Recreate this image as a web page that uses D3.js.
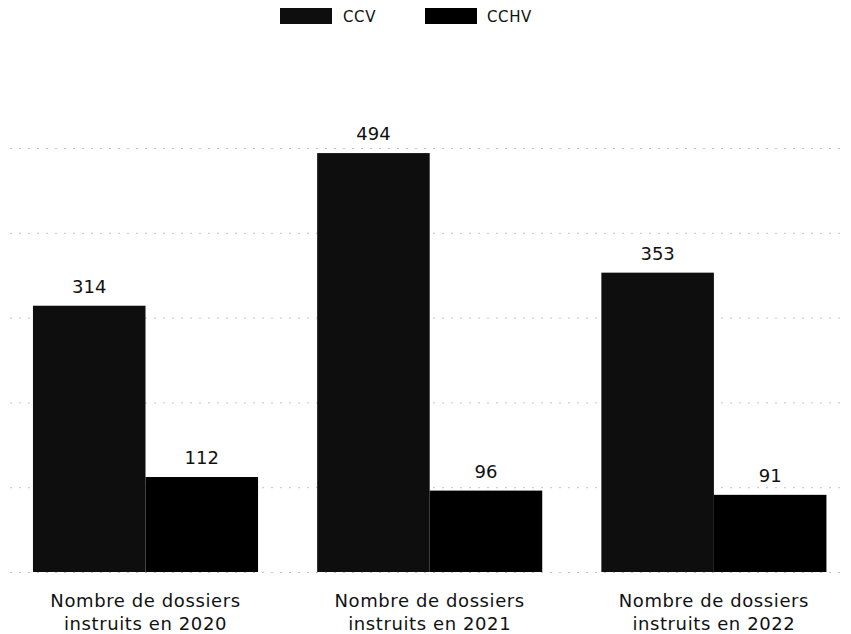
<!DOCTYPE html>
<html><head><meta charset="utf-8">
<script src="https://cdn.jsdelivr.net/npm/d3@7"></script>
<style>
html,body{margin:0;padding:0;background:#fff;}
svg{display:block;font-family:"DejaVu Sans",sans-serif;}
</style></head>
<body><svg id="c" width="851" height="634"></svg>
<script>
const categories = ["Nombre de dossiers|instruits en 2020","Nombre de dossiers|instruits en 2021","Nombre de dossiers|instruits en 2022"];
const seriesNames = ["CCV","CCHV"];
const ccv = [314, 494, 353];
const cchv = [112, 96, 91];
const yTicks = [0,100,200,300,400,500];
const colors = ["#0e0e0e","#000000"];

const svg = d3.select("#c");
const x0 = d3.scaleBand().domain(categories).range([3.4, 856]).paddingInner(0.208).paddingOuter(0.104);
const x1 = d3.scaleBand().domain(seriesNames).range([0, x0.bandwidth()]);
const y = d3.scaleLinear().domain([0,500]).range([572,148]);
const color = d3.scaleOrdinal().domain(seriesNames).range(colors);

// gridlines
svg.append("g").selectAll("line").data(yTicks).join("line")
  .attr("x1",10).attr("x2",845)
  .attr("y1",d=>y(d)+0.5).attr("y2",d=>y(d)+0.5)
  .attr("stroke","#c4c4c4").attr("stroke-width",1).attr("stroke-dasharray","2,7");

const data = categories.map((c,i)=>({cat:c, vals:[{k:"CCV",v:ccv[i]},{k:"CCHV",v:cchv[i]}]}));
const g = svg.append("g").selectAll("g").data(data).join("g")
  .attr("transform",d=>`translate(${x0(d.cat)},0)`);
g.selectAll("rect").data(d=>d.vals).join("rect")
  .attr("x",d=>x1(d.k)).attr("width",x1.bandwidth())
  .attr("y",d=>y(d.v)).attr("height",d=>y(0)-y(d.v))
  .attr("fill",d=>color(d.k));
g.selectAll("text.v").data(d=>d.vals).join("text").attr("class","v")
  .attr("x",d=>x1(d.k)+x1.bandwidth()/2).attr("y",d=>y(d.v)-13)
  .attr("text-anchor","middle").attr("font-size",18).attr("fill","#111")
  .text(d=>d.v);

// category labels
const lab = svg.append("g").selectAll("text").data(categories).join("text")
  .attr("x",d=>x0(d)+x0.bandwidth()/2).attr("text-anchor","middle")
  .attr("font-size",18).attr("letter-spacing",0.6).attr("fill","#111");
lab.selectAll("tspan").data(d=>d.split("|").map((t,i)=>({t,i}))).join("tspan")
  .attr("x",function(){return this.parentNode.getAttribute("x");})
  .attr("y",d=>607+d.i*23).text(d=>d.t);

// legend
const leg = [{k:"CCV",sx:280,sw:52,tx:343},{k:"CCHV",sx:425,sw:52,tx:487}];
const lg = svg.append("g").selectAll("g").data(leg).join("g");
lg.append("rect").attr("x",d=>d.sx).attr("y",8).attr("width",d=>d.sw).attr("height",16).attr("fill",d=>color(d.k));
lg.append("text").attr("x",d=>d.tx).attr("y",22).attr("font-size",15).attr("letter-spacing",0.6).attr("fill","#111").text(d=>d.k);
</script></body></html>
